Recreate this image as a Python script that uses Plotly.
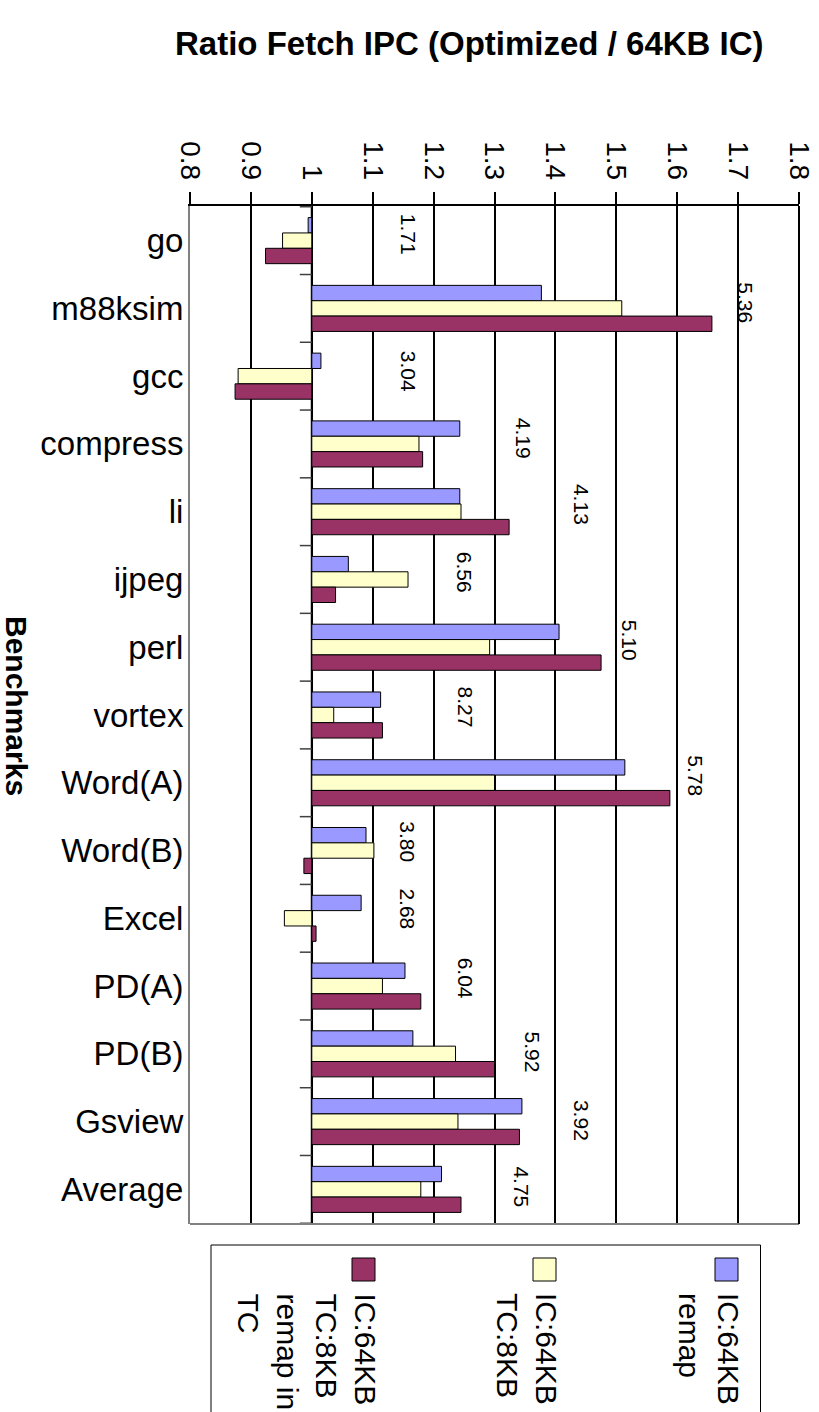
import plotly.graph_objects as go

# Benchmarks and fetch-IPC ratios relative to a 64KB instruction cache
benchmarks = ["go", "m88ksim", "gcc", "compress", "li", "ijpeg", "perl", "vortex",
              "Word(A)", "Word(B)", "Excel", "PD(A)", "PD(B)", "Gsview", "Average"]

ic_remap = [0.994, 1.377, 1.015, 1.243, 1.243, 1.060, 1.406, 1.113,
            1.514, 1.089, 1.081, 1.153, 1.166, 1.345, 1.213]
ic_tc = [0.952, 1.509, 0.879, 1.176, 1.245, 1.158, 1.292, 1.036,
         1.300, 1.102, 0.955, 1.116, 1.236, 1.240, 1.179]
ic_tc_remap = [0.924, 1.657, 0.874, 1.182, 1.324, 1.039, 1.475, 1.116,
               1.588, 0.987, 1.007, 1.179, 1.300, 1.341, 1.245]

# Annotated figures per benchmark and where they sit (value axis, category index)
note_text = ["1.71", "5.36", "3.04", "4.19", "4.13", "6.56", "5.10", "8.27",
             "5.78", "3.80", "2.68", "6.04", "5.92", "3.92", "4.75"]
note_x = [1.158, 1.713, 1.158, 1.348, 1.442, 1.252, 1.522, 1.252,
          1.631, 1.157, 1.157, 1.252, 1.363, 1.442, 1.345]
note_y = [-0.10, 0.91, 1.92, 2.92, 3.90, 4.89, 5.90, 6.88,
          7.89, 8.87, 9.86, 10.88, 11.98, 12.99, 13.97]

x_ticks = [0.8, 0.9, 1.0, 1.1, 1.2, 1.3, 1.4, 1.5, 1.6, 1.7, 1.8]
x_tick_text = ["0.8", "0.9", "1", "1.1", "1.2", "1.3", "1.4", "1.5", "1.6", "1.7", "1.8"]

series = [
    ("IC:64KB remap", ic_remap, "#9999FF", ["IC:64KB", "remap"]),
    ("IC:64KB TC:8KB", ic_tc, "#FFFFCC", ["IC:64KB", "TC:8KB"]),
    ("IC:64KB TC:8KB remap in TC", ic_tc_remap, "#993366", ["IC:64KB", "TC:8KB", "remap in", "TC"]),
]

FONT = "Arial, Liberation Sans, sans-serif"
W, H = 819, 1412
ML, MR, MT, MB = 190, 20, 206, 188
PW, PH = W - ML - MR, H - MT - MB
BASE = 1.0


def px(xp):
    return (xp - ML) / PW


def py(yp):
    return (H - MB - yp) / PH


fig = go.Figure()
for name, vals, color, _ in series:
    fig.add_trace(go.Bar(
        name=name, y=benchmarks, x=[v - BASE for v in vals], base=BASE,
        orientation="h", marker=dict(color=color, line=dict(color="black", width=1)),
    ))

shapes = []
# Category axis crossing at 1.0, with tick marks between categories
shapes.append(dict(type="line", xref="x", yref="paper", x0=1.0, x1=1.0, y0=0, y1=1,
                   line=dict(color="#808080", width=2.5), layer="below"))
tick_dx = 12 / PW * 1.0
for k in range(len(benchmarks) + 1):
    shapes.append(dict(type="line", xref="x", yref="y", x0=1.0 - tick_dx, x1=1.0,
                       y0=k - 0.5, y1=k - 0.5, line=dict(color="#404040", width=1.5),
                       layer="above"))
# Frame: grey bottom, black right
shapes.append(dict(type="line", xref="paper", yref="paper", x0=0, x1=1, y0=0, y1=0,
                   line=dict(color="#808080", width=2), layer="above"))
shapes.append(dict(type="line", xref="paper", yref="paper", x0=1, x1=1, y0=0, y1=1,
                   line=dict(color="black", width=2), layer="above"))

# Legend box with swatches
shapes.append(dict(type="rect", xref="paper", yref="paper", x0=px(211), x1=px(760.5),
                   y0=py(1430), y1=py(1245), line=dict(color="black", width=1),
                   fillcolor="white"))
annotations = []
swatch_left = [715, 533, 352]
for (name, vals, color, lines), sx in zip(series, swatch_left):
    shapes.append(dict(type="rect", xref="paper", yref="paper", x0=px(sx), x1=px(sx + 23),
                       y0=py(1281), y1=py(1258), line=dict(color="black", width=1),
                       fillcolor=color))
    annotations.append(dict(
        xref="paper", yref="paper", x=px(sx + 32), y=py(1291), xanchor="right",
        yanchor="top", text="<br>".join(lines), textangle=90, align="left",
        showarrow=False, font=dict(family=FONT, size=30, color="black")))

for t, xv, yv in zip(note_text, note_x, note_y):
    annotations.append(dict(x=xv, y=yv, xref="x", yref="y", text=t, textangle=90,
                            showarrow=False, font=dict(family=FONT, size=21, color="black")))

annotations.append(dict(xref="paper", yref="paper", x=px(469), y=py(44),
                        xanchor="center", yanchor="middle",
                        text="<b>Ratio Fetch IPC (Optimized / 64KB IC)</b>", showarrow=False,
                        font=dict(family=FONT, size=33, color="black")))
annotations.append(dict(xref="paper", yref="paper", x=px(17), y=py(706),
                        xanchor="center", yanchor="middle",
                        text="<b>Benchmarks</b>", textangle=90, showarrow=False,
                        font=dict(family=FONT, size=30, color="black")))

fig.update_layout(
    template="none",
    width=W, height=H, margin=dict(l=ML, r=MR, t=MT, b=MB, pad=0, autoexpand=False),
    paper_bgcolor="white", plot_bgcolor="white",
    barmode="group", bargap=0.32, bargroupgap=0,
    showlegend=False, shapes=shapes, annotations=annotations,
    xaxis=dict(range=[0.8, 1.8], side="top", tickvals=x_ticks, ticktext=x_tick_text,
               tickangle=90, tickfont=dict(family=FONT, size=28, color="black"),
               ticks="outside", ticklen=12, tickcolor="black", tickwidth=1.5,
               showgrid=True, gridcolor="black", gridwidth=2,
               showline=True, linecolor="black", linewidth=2,
               zeroline=False, ticklabelstandoff=2, automargin=False),
    yaxis=dict(type="category", categoryorder="array", categoryarray=benchmarks,
               autorange="reversed", showgrid=False, zeroline=False,
               showline=True, linecolor="#808080", linewidth=2,
               ticks="", tickfont=dict(family=FONT, size=33, color="black"),
               ticklabelstandoff=-2, automargin=False),
)

fig.write_html("out.html")
